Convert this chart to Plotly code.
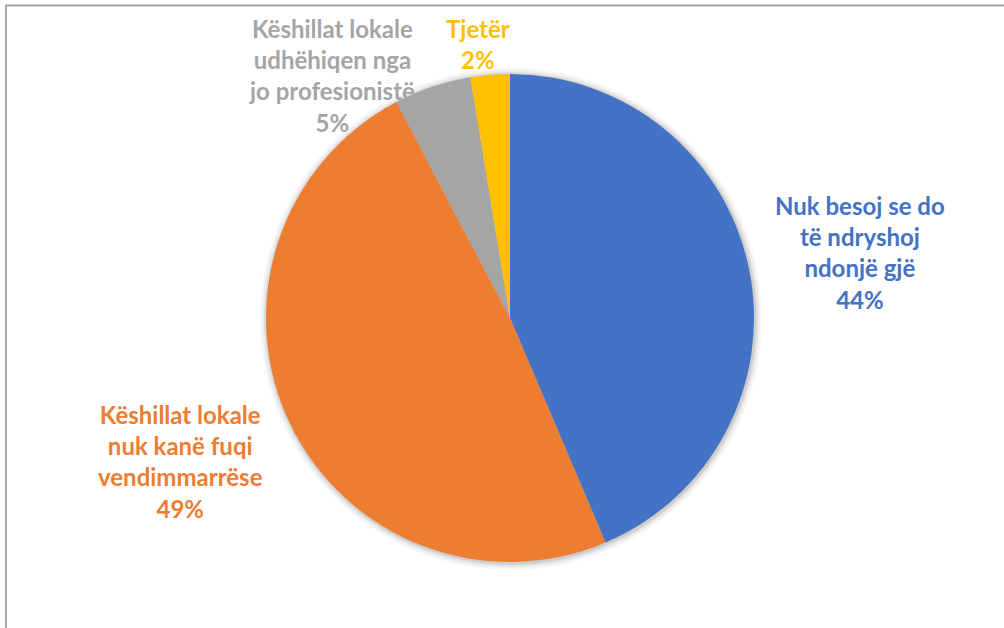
import plotly.graph_objects as go

# Data
categories = [
    "Nuk besoj se do<br>të ndryshoj<br>ndonjë gjë",
    "Këshillat lokale<br>nuk kanë fuqi<br>vendimmarrëse",
    "Këshillat lokale<br>udhëhiqen nga<br>jo profesionistë",
    "Tjetër",
]
values = [43.6, 48.7, 5.1, 2.6]
pct_labels = ["44%", "49%", "5%", "2%"]
colors = ["#4472C4", "#ED7D31", "#A5A5A5", "#FFC000"]

W, H = 1004, 628
cx, cy, r = 510, 318, 244

fig = go.Figure()

# soft shadow layers
for k, a in [(7, 0.03), (5, 0.04), (3, 0.06), (1.5, 0.08)]:
    fig.add_trace(go.Pie(
        values=[1], marker=dict(colors=[f"rgba(0,0,0,{a})"], line=dict(width=0)),
        textinfo="none", hoverinfo="skip", showlegend=False, sort=False,
        domain=dict(x=[(cx - r - k + 1) / W, (cx + r + k + 1) / W],
                    y=[(H - cy - r - k - 1) / H, (H - cy + r + k - 1) / H]),
    ))

fig.add_trace(go.Pie(
    labels=categories,
    values=values,
    marker=dict(colors=colors, line=dict(width=0)),
    sort=False,
    direction="clockwise",
    rotation=0,
    textinfo="none",
    hoverinfo="skip",
    showlegend=False,
    domain=dict(x=[(cx - r) / W, (cx + r) / W], y=[(H - cy - r) / H, (H - cy + r) / H]),
))

# label positions (pixel centers)
label_pos = [(860, 253), (180, 461), (332, 76), (478, 44)]
for cat, p, col, (lx, ly) in zip(categories, pct_labels, colors, label_pos):
    fig.add_annotation(
        x=lx / W, y=1 - ly / H, xref="paper", yref="paper",
        text=f"{cat}<br>{p}", showarrow=False,
        font=dict(family="Lato", size=24, color=col, weight="bold"),
        align="center", xanchor="center", yanchor="middle",
    )

# frame
fig.add_shape(type="rect", xref="paper", yref="paper",
              x0=6 / W, x1=1.02, y0=-0.02, y1=1 - 5.5 / H,
              line=dict(color="#A0A0A0", width=1.8), fillcolor="rgba(0,0,0,0)")

fig.update_layout(
    width=W, height=H,
    margin=dict(l=0, r=0, t=0, b=0),
    paper_bgcolor="white",
    plot_bgcolor="white",
)

fig.write_html(
    "out.html",
    config={"displayModeBar": False, "staticPlot": True},
    post_script="document.body.style.margin='0';document.body.style.overflow='hidden';",
)
